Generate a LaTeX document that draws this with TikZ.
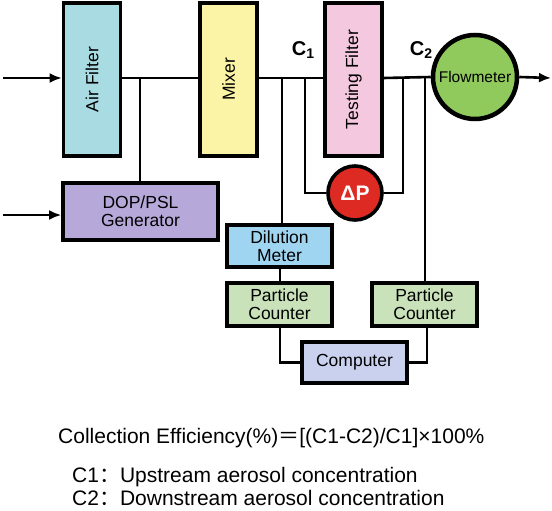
\documentclass[tikz,border=0pt]{standalone}
\usepackage{fontspec}
\setmainfont{Liberation Sans}
\newfontfamily\cjk{Noto Sans CJK SC}
\usetikzlibrary{arrows.meta}
\definecolor{cAir}{HTML}{A9DBE3}
\definecolor{cMix}{HTML}{FBF4A6}
\definecolor{cTest}{HTML}{F4C8DF}
\definecolor{cFlow}{HTML}{90C95C}
\definecolor{cDP}{HTML}{DD2A22}
\definecolor{cDOP}{HTML}{B6A9D9}
\definecolor{cDil}{HTML}{9FD5F1}
\definecolor{cPC}{HTML}{C9E2BA}
\definecolor{cComp}{HTML}{C9D1EF}
\begin{document}
\begin{tikzpicture}[x=1pt,y=-1pt,
  box/.style={draw=black,line width=3.6pt,inner sep=0pt,align=center,font=\fontsize{17.5}{18}\selectfont},
  tallbox/.style={box,minimum width=57pt,minimum height=153pt},
  smallbox/.style={box,minimum width=105pt,minimum height=43pt},
  wire/.style={line width=2.6pt},
  arr/.style={wire,-{Latex[length=12pt,width=10pt]}}]
\useasboundingbox (0,0) rectangle (552,511);
% boxes
\node[tallbox,fill=cAir] (air) at (92,79.5) {\rotatebox{90}{Air Filter}};
\node[tallbox,fill=cMix] (mix) at (228.5,79.5) {\rotatebox{90}{Mixer}};
\node[tallbox,fill=cTest] (test) at (353.5,79.5) {\rotatebox{90}{Testing Filter}};
\node[box,circle,fill=cFlow,minimum size=84pt,line width=4.5pt,font=\fontsize{15.5}{16}\selectfont] (flow) at (475,77) {Flowmeter};
\node[box,circle,fill=cDP,minimum size=54pt,text=white,font=\fontsize{21}{22}\selectfont\bfseries] (dp) at (355,193) {ΔP};
\node[box,fill=cDOP,minimum width=155pt,minimum height=57pt] (dop) at (140.5,211.5) {DOP/PSL\\Generator};
\node[smallbox,fill=cDil,minimum height=42pt] (dil) at (279.5,246) {Dilution\\Meter};
\node[smallbox,fill=cPC] (pc1) at (279.5,304.5) {Particle\\Counter};
\node[smallbox,fill=cPC] (pc2) at (424.5,304.5) {Particle\\Counter};
\node[smallbox,fill=cComp,minimum height=41pt] (comp) at (354.5,362.5) {Computer};
% coordinates
\coordinate (in1) at (3,78);
\coordinate (in2) at (3,215);
\coordinate (out) at (551,78);
\coordinate (j1) at (140,78);
\coordinate (j2) at (282,78);
\coordinate (j3) at (305,78);
\coordinate (j4) at (403,78);
\coordinate (j5) at (425,78);
% wires
\draw[arr] (in1) -- (air.west |- in1);
\draw[arr] (in2) -- (dop.west |- in2);
\draw[wire] (air.east |- j1) -- (mix.west |- j1);
\draw[wire] (j1) -- (dop.north -| j1);
\draw[wire] (mix.east |- j2) -- (test.west |- j2);
\draw[wire] (test.east |- j4) -- (flow.west);
\draw[arr] (flow.east) -- (out);
\draw[wire] (j2) -- (dil.north -| j2);
\draw[wire] (j3) |- (dp.west);
\draw[wire] (j4) |- (dp.east);
\draw[wire] (j5) -- (pc2.north -| j5);
\draw[wire] (dil.south -| 280,0) -- (pc1.north -| 280,0);
\draw[wire] (pc1.south -| 280,0) |- (comp.west);
\draw[wire] (pc2.south -| 427,0) |- (comp.east);
% labels
\node[font=\fontsize{20}{20}\selectfont\bfseries] (c1) at (303,50) {C\raisebox{-0.3ex}{\fontsize{14}{14}\selectfont 1}};
\node[font=\fontsize{20}{20}\selectfont\bfseries] (c2) at (421,50) {C\raisebox{-0.3ex}{\fontsize{14}{14}\selectfont 2}};
\node[anchor=west,inner sep=0pt,font=\fontsize{21}{21}\selectfont] (eq) at (58,438) {Collection Efficiency(\%){\cjk ＝}[(C1-C2)/C1]×100\%};
\node[anchor=west,inner sep=0pt,font=\fontsize{21}{21}\selectfont] (d1) at (72,477) {C1{\cjk ：}Upstream aerosol concentration};
\node[anchor=west,inner sep=0pt,font=\fontsize{21}{21}\selectfont] (d2) at (72,498) {C2{\cjk ：}Downstream aerosol concentration};
\end{tikzpicture}
\end{document}
